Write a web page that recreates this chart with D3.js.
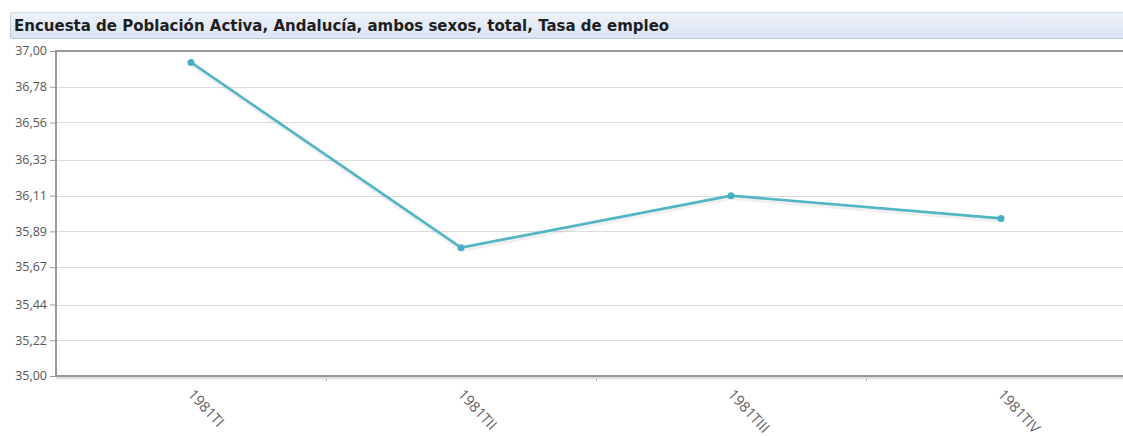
<!DOCTYPE html>
<html>
<head>
<meta charset="utf-8">
<script src="https://cdn.jsdelivr.net/npm/d3@7"></script>
<style>
  body { margin: 0; background: #fff; font-family: "DejaVu Sans", "Liberation Sans", sans-serif; }
  .title-bar {
    position: absolute; left: 10px; top: 12px; width: 1130px; height: 27px;
    background: linear-gradient(#edf1f9, #dbe4f5);
    border: 1px solid #c2c8d4; border-top-color: #d8dbe0; border-radius: 2px;
    box-sizing: border-box;
    font: bold 15px "DejaVu Sans", Verdana, sans-serif; color: #1e1e1e;
    padding: 4px 0 0 3px;
  }
  svg { position: absolute; left: 0; top: 0; }
  .grid line { stroke: #dcdcdc; stroke-width: 1; }
  .axis text { fill: #555; font-size: 12.5px; font-family: "Open Sans", "DejaVu Sans", sans-serif; }
  .axis.x-axis text { fill: #606060; font-size: 14.5px; }
</style>
</head>
<body>
<div class="title-bar">Encuesta de Población Activa, Andalucía, ambos sexos, total, Tasa de empleo</div>
<div id="chart"></div>
<script>
// ---- Data ----
const periods = ['1981TI', '1981TII', '1981TIII', '1981TIV'];
const tasaEmpleo = [36.93, 35.79, 36.11, 35.97];
const yTicks = [35.00, 35.22, 35.44, 35.67, 35.89, 36.11, 36.33, 36.56, 36.78, 37.00];

const W = 1123, H = 436;
const margin = { top: 51, left: 56, bottom: 60 };
const plotW = 1080, plotH = 325;

const svg = d3.select('#chart').append('svg').attr('width', W).attr('height', H);
const g = svg.append('g').attr('transform', `translate(${margin.left},${margin.top})`);

const x = d3.scaleBand().domain(periods).range([0, plotW]);
const y = d3.scaleLinear().domain([35, 37]).range([plotH, 0]);
const fmt = v => v.toFixed(2).replace('.', ',');

// ---- Grid ----
g.append('g').attr('class', 'grid')
  .selectAll('line').data(yTicks.slice(1, -1)).join('line')
  .attr('x1', 0).attr('x2', plotW)
  .attr('y1', d => Math.round(y(d)) + 0.5).attr('y2', d => Math.round(y(d)) + 0.5);

// ---- Axes ----
const yAxis = g.append('g').attr('class', 'axis')
  .call(d3.axisLeft(y).tickValues(yTicks).tickFormat(fmt).tickSize(6).tickPadding(3));
yAxis.select('.domain').remove();
yAxis.selectAll('line').attr('stroke', '#999');
yAxis.selectAll('text').attr('dy', '0.3em');

const xAxis = g.append('g').attr('class', 'axis x-axis')
  .attr('transform', `translate(0,${plotH})`)
  .call(d3.axisBottom(x).tickSize(0).tickPadding(0));
xAxis.select('.domain').remove();
xAxis.selectAll('text')
  .attr('text-anchor', 'start')
  .attr('dy', 0)
  .attr('transform', 'translate(-4,19) rotate(47)');

// separators between categories on the x axis
g.append('g').selectAll('line').data(periods.slice(1)).join('line')
  .attr('x1', d => x(d) + 0.5).attr('x2', d => x(d) + 0.5)
  .attr('y1', plotH).attr('y2', plotH + 5)
  .attr('stroke', '#aaa');

// frame lines: top, bottom (with shadow), left
g.append('line').attr('x1', 0).attr('x2', plotW).attr('y1', 0).attr('y2', 0)
  .attr('stroke', '#999').attr('stroke-width', 2);
g.append('line').attr('x1', 0).attr('x2', plotW).attr('y1', plotH + 2).attr('y2', plotH + 2)
  .attr('stroke', '#ddd').attr('stroke-width', 2);
g.append('line').attr('x1', 0).attr('x2', plotW).attr('y1', plotH).attr('y2', plotH)
  .attr('stroke', '#999').attr('stroke-width', 2);
g.append('line').attr('x1', 0).attr('x2', 0).attr('y1', -1).attr('y2', plotH + 1)
  .attr('stroke', '#999').attr('stroke-width', 2);

// ---- Line ----
const cx = d => x(d) + x.bandwidth() / 2;
const line = d3.line().x((d, i) => cx(periods[i])).y(d => y(d));

// soft shadow
g.append('path').datum(tasaEmpleo)
  .attr('d', line).attr('fill', 'none')
  .attr('stroke', '#000').attr('stroke-opacity', 0.06).attr('stroke-width', 5)
  .attr('transform', 'translate(1,2)');

g.append('path').datum(tasaEmpleo)
  .attr('d', line).attr('fill', 'none')
  .attr('stroke', '#52b5c6').attr('stroke-width', 2.6);

g.selectAll('.pt').data(tasaEmpleo).join('circle')
  .attr('class', 'pt')
  .attr('cx', (d, i) => cx(periods[i])).attr('cy', d => y(d))
  .attr('r', 3.5).attr('fill', '#4aaec2');
</script>
</body>
</html>
